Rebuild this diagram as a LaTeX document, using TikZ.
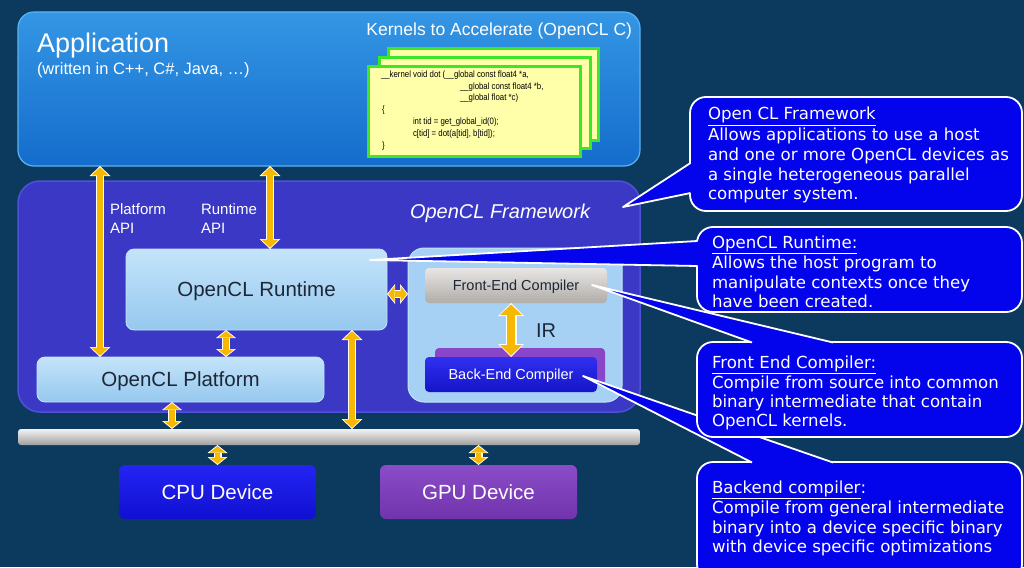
\documentclass[tikz,border=0pt]{standalone}
\usepackage{fontspec}
\setmainfont{Liberation Sans}
\newfontfamily\callfont{DejaVu Sans}
\newfontfamily\codefont[FakeStretch=0.85]{Liberation Sans}
\usetikzlibrary{arrows.meta}
\newcommand\fsz[1]{\fontsize{#1}{#1}\selectfont}
\definecolor{bgc}{RGB}{12,58,95}
\definecolor{apptop}{RGB}{52,150,228}
\definecolor{appbot}{RGB}{20,108,204}
\definecolor{apprim}{RGB}{90,180,240}
\definecolor{fwc}{RGB}{58,56,196}
\definecolor{fwrim}{RGB}{80,80,216}
\definecolor{lbtop}{RGB}{196,228,250}
\definecolor{lbbot}{RGB}{150,200,238}
\definecolor{compc}{RGB}{166,208,244}
\definecolor{darktxt}{RGB}{28,40,56}
\definecolor{fetop}{RGB}{232,230,228}
\definecolor{febot}{RGB}{176,172,168}
\definecolor{betop}{RGB}{48,48,240}
\definecolor{bebot}{RGB}{20,20,200}
\definecolor{bepur}{RGB}{138,70,200}
\definecolor{cputop}{RGB}{36,36,244}
\definecolor{cpubot}{RGB}{16,16,210}
\definecolor{gputop}{RGB}{140,76,200}
\definecolor{gpubot}{RGB}{112,52,172}
\definecolor{bustop}{RGB}{242,242,242}
\definecolor{busbot}{RGB}{160,160,160}
\definecolor{arrc}{RGB}{246,184,0}
\definecolor{cardy}{RGB}{255,255,170}
\definecolor{cardg}{RGB}{60,230,40}
\definecolor{callc}{RGB}{4,4,236}
\tikzset{
  boxbase/.style={inner sep=0pt, outer sep=0pt},
  appbox/.style={boxbase, top color=apptop, bottom color=appbot, draw=apprim, line width=1.2pt, rounded corners=16pt},
  fwbox/.style={boxbase, fill=fwc, draw=fwrim, line width=1.5pt, rounded corners=22pt},
  lbbox/.style={boxbase, top color=lbtop, bottom color=lbbot, draw=lbtop, line width=0.8pt, rounded corners=8pt, text=darktxt, font=\fsz{20.5}, text height=14.6pt, text depth=0pt},
  compbox/.style={boxbase, fill=compc, draw=lbtop, line width=1pt, rounded corners=16pt},
  febox/.style={boxbase, top color=fetop, bottom color=febot, rounded corners=4pt, text=darktxt, font=\fsz{14.5}, text height=10.4pt, text depth=0pt},
  bebox/.style={boxbase, top color=betop, bottom color=bebot, rounded corners=4pt, text=white, font=\fsz{14.5}, text height=10.4pt, text depth=0pt},
  bebackbox/.style={boxbase, fill=bepur, rounded corners=4pt},
  busbox/.style={boxbase, top color=bustop, bottom color=busbot, rounded corners=3pt},
  devbox/.style={boxbase, rounded corners=6pt, text=white, font=\fsz{20.5}, text height=14.6pt, text depth=0pt},
  card/.style={boxbase, fill=cardy, draw=cardg, line width=3pt},
  txt/.style={inner sep=0pt, outer sep=0pt, text=white, anchor=base west},
  code/.style={inner sep=0pt, outer sep=0pt, text=black, anchor=base west, font=\codefont\fsz{9.2}},
  arrw/.style={draw=white, line width=8pt, {Triangle[width=21pt,length=10pt,line width=0pt]}-{Triangle[width=21pt,length=10pt,line width=0pt]}},
  arro/.style={draw=arrc, line width=5.5pt, {Triangle[width=17pt,length=8pt,line width=0pt]}-{Triangle[width=17pt,length=8pt,line width=0pt]}, shorten <=1.3pt, shorten >=1.3pt},
  sarrw/.style={draw=white, line width=8pt, {Triangle[width=20pt,length=8pt,line width=0pt]}-{Triangle[width=20pt,length=8pt,line width=0pt]}},
  sarro/.style={draw=arrc, line width=5.5pt, {Triangle[width=16pt,length=6.3pt,line width=0pt]}-{Triangle[width=16pt,length=6.3pt,line width=0pt]}, shorten <=1.2pt, shorten >=1.2pt},
  arrwbig/.style={draw=white, line width=11pt, {Triangle[width=26pt,length=13pt,line width=0pt]}-{Triangle[width=26pt,length=13pt,line width=0pt]}},
  arrobig/.style={draw=arrc, line width=8pt, {Triangle[width=22pt,length=10.5pt,line width=0pt]}-{Triangle[width=22pt,length=10.5pt,line width=0pt]}, shorten <=1.5pt, shorten >=1.5pt},
  callbox/.style={boxbase, fill=callc, draw=white, line width=1.8pt, rounded corners=16pt},
  callwedge/.style={draw=white, line width=1.8pt, line join=round},
  calltxt/.style={inner sep=0pt, outer sep=0pt, text=white, anchor=base west, font=\callfont\fsz{16.6}},
}
\newcommand\biarrow[2]{\draw[arrw] #1 -- #2; \draw[arro] #1 -- #2;}
\newcommand\sbiarrow[2]{\draw[sarrw] #1 -- #2; \draw[sarro] #1 -- #2;}
\begin{document}
\begin{tikzpicture}[x=1pt,y=-1pt]
\useasboundingbox (0,0) rectangle (1024,567);
\clip (0,0) rectangle (1024,567);
\fill[bgc] (0,0) rectangle (1024,567);

% Application
\node[appbox, minimum width=622pt, minimum height=154pt] (app) at (329,89) {};
\node[txt, font=\fsz{27}] (apptitle) at (37,53) {Application};
\node[txt, font=\fsz{16.5}] (appsub) at (37,75) {(written in C++, C\#, Java, …)};
\node[txt, font=\fsz{17.5}, anchor=base east] (kertitle) at (632,36) {Kernels to Accelerate (OpenCL C)};

% kernel cards
\node[card, minimum width=210pt, minimum height=91pt] (card3) at (493,94.5) {};
\node[card, minimum width=211pt, minimum height=90pt] (card2) at (484.5,103) {};
\node[card, minimum width=212pt, minimum height=89pt] (card1) at (474,111.5) {};
\node[code] (k1) at (381,78) {\_\_kernel void dot (\_\_global const float4 *a,};
\node[code] (k2) at (460,89.5) {\_\_global const float4 *b,};
\node[code] (k3) at (460,101) {\_\_global float *c)};
\node[code] (k4) at (382,113) {\{};
\node[code] (k5) at (413,124.5) {int tid = get\_global\_id(0);};
\node[code] (k6) at (413,136) {c[tid] = dot(a[tid], b[tid]);};
\node[code] (k7) at (382,148) {\}};

% Framework
\node[fwbox, minimum width=622pt, minimum height=231pt] (fw) at (329,296.5) {};
\node[txt, font=\itshape\fsz{20}] (fwtitle) at (410,218) {OpenCL Framework};
\node[txt, font=\fsz{15}] (papi1) at (110,214) {Platform};
\node[txt, font=\fsz{15}] (papi2) at (110,233) {API};
\node[txt, font=\fsz{15}] (rapi1) at (201,214) {Runtime};
\node[txt, font=\fsz{15}] (rapi2) at (201,233) {API};

\node[lbbox, minimum width=261pt, minimum height=81pt] (rt) at (256.5,289.5) {OpenCL Runtime};
\node[lbbox, minimum width=287pt, minimum height=45pt] (plat) at (180.5,379.5) {OpenCL Platform};

\node[compbox, minimum width=214pt, minimum height=154pt] (comp) at (515,325) {};
\node[febox, minimum width=182pt, minimum height=35pt] (fe) at (516,285.5) {Front-End Compiler};
\node[bebackbox, minimum width=170pt, minimum height=37pt] (beb) at (520,366.5) {};
\node[bebox, minimum width=172pt, minimum height=35pt] (be) at (511,374.5) {Back-End Compiler};
\node[txt, font=\fsz{20}, text=darktxt] (ir) at (536,337) {IR};

% bus and devices
\node[busbox, minimum width=622pt, minimum height=16pt] (bus) at (329,437) {};
\node[devbox, top color=cputop, bottom color=cpubot, minimum width=197pt, minimum height=54pt] (cpu) at (217.5,492) {CPU Device};
\node[devbox, top color=gputop, bottom color=gpubot, minimum width=197pt, minimum height=54pt] (gpu) at (478.5,492) {GPU Device};

% arrows
\coordinate (ax1) at (100,0);
\coordinate (ax2) at (270,0);
\coordinate (ax3) at (226,0);
\coordinate (ax4) at (352,0);
\coordinate (ax5) at (172,0);
\coordinate (ax6) at (511,0);
\coordinate (ay1) at (0,294);
\biarrow{(app.south -| ax1)}{(plat.north -| ax1)}
\biarrow{(app.south -| ax2)}{(rt.north -| ax2)}
\sbiarrow{(rt.south -| ax3)}{(plat.north -| ax3)}
\biarrow{(rt.south -| ax4)}{(bus.north -| ax4)}
\sbiarrow{(rt.east |- ay1)}{(comp.west |- ay1)}
\draw[arrwbig] (fe.south -| ax6) -- (be.north -| ax6);
\draw[arrobig] (fe.south -| ax6) -- (be.north -| ax6);
\sbiarrow{(plat.south -| ax5)}{(bus.north -| ax5)}
\sbiarrow{(bus.south -| cpu.north)}{(cpu.north)}
\sbiarrow{(bus.south -| gpu.north)}{(gpu.north)}

% callout 4: backend
\node[callbox, minimum width=325pt, minimum height=118pt] (c4) at (859.5,521) {};
\coordinate (t4) at (583,376);
\fill[callc] (t4) -- (752,462) -- (752,470) -- (833,470) -- (833,462) -- cycle;
\draw[callwedge] (752,462.5) -- (t4) -- (833,462.5);
\node[calltxt] (c4l1) at (712,493) {\underline{Backend compiler}:};
\node[calltxt] (c4l2) at (712,513) {Compile from general intermediate};
\node[calltxt] (c4l3) at (712,533) {binary into a device specific binary};
\node[calltxt] (c4l4) at (712,552) {with device specific optimizations};

% callout 3: front end
\node[callbox, minimum width=325pt, minimum height=95pt] (c3) at (859.5,389.5) {};
\coordinate (t3) at (592,285);
\fill[callc] (t3) -- (752,342) -- (752,350) -- (833,350) -- (833,342) -- cycle;
\draw[callwedge] (752,342.5) -- (t3) -- (833,342.5);
\node[calltxt] (c3l1) at (712,368) {\underline{Front End Compiler:}};
\node[calltxt] (c3l2) at (712,388) {Compile from source into common};
\node[calltxt] (c3l3) at (712,407) {binary intermediate that contain};
\node[calltxt] (c3l4) at (712,426) {OpenCL kernels.};

% callout 2: runtime
\node[callbox, minimum width=325pt, minimum height=85pt] (c2) at (859.5,269.5) {};
\coordinate (t2) at (370,260);
\fill[callc] (t2) -- (697,241) -- (705,241) -- (705,266) -- (697,266) -- cycle;
\draw[callwedge] (697.5,241) -- (t2) -- (697.5,266);
\node[calltxt] (c2l1) at (712,248) {\underline{OpenCL Runtime:}};
\node[calltxt] (c2l2) at (712,268) {Allows the host program to};
\node[calltxt] (c2l3) at (712,288) {manipulate contexts once they};
\node[calltxt] (c2l4) at (712,307) {have been created.};

% callout 1: framework
\node[callbox, minimum width=332pt, minimum height=114pt] (c1) at (856,154) {};
\coordinate (t1) at (623,207);
\fill[callc] (t1) -- (690,163) -- (698,163) -- (698,193) -- (690,193) -- cycle;
\draw[callwedge] (690.5,163) -- (t1) -- (690.5,193);
\node[calltxt] (c1l1) at (708,120) {\underline{Open CL Framework}};
\node[calltxt] (c1l2) at (708,140) {Allows applications to use a host};
\node[calltxt] (c1l3) at (708,160) {and one or more OpenCL devices as};
\node[calltxt] (c1l4) at (708,180) {a single heterogeneous parallel};
\node[calltxt] (c1l5) at (708,199) {computer system.};
\end{tikzpicture}
\end{document}
